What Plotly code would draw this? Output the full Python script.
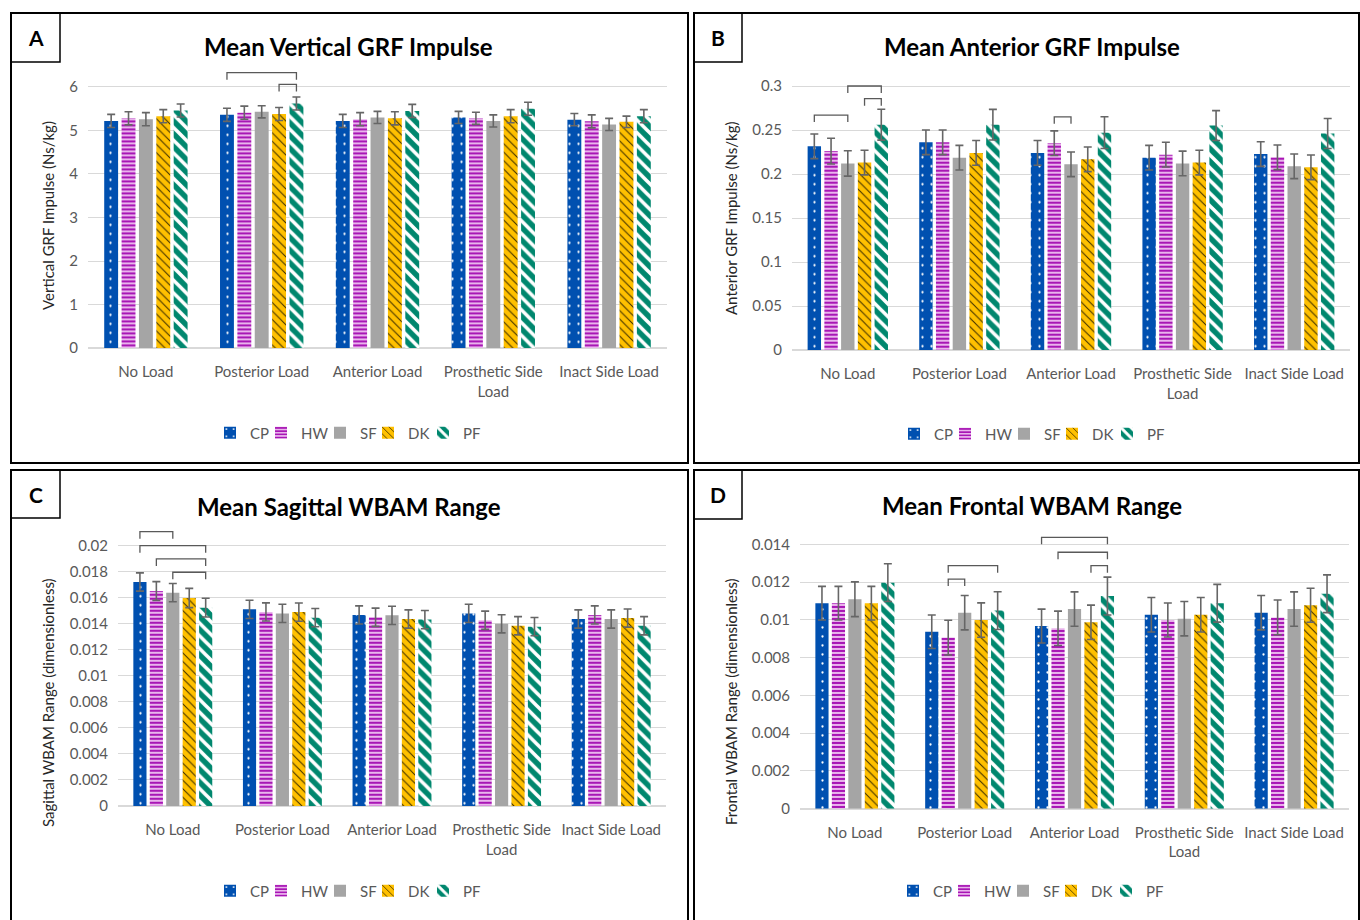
import plotly.graph_objects as go

# ---------------- data ----------------
categories = ["No Load", "Posterior Load", "Anterior Load", "Prosthetic Side<br>Load", "Inact Side Load"]
conditions = ["CP", "HW", "SF", "DK", "PF"]

# A: Mean Vertical GRF Impulse (Ns/kg)
vgrf_mean = {
    "CP": [5.22, 5.36, 5.22, 5.30, 5.25],
    "HW": [5.28, 5.41, 5.26, 5.28, 5.21],
    "SF": [5.26, 5.43, 5.30, 5.22, 5.14],
    "DK": [5.33, 5.38, 5.28, 5.33, 5.20],
    "PF": [5.46, 5.62, 5.45, 5.50, 5.33],
}
vgrf_err = {
    "CP": [0.15, 0.15, 0.15, 0.14, 0.14],
    "HW": [0.15, 0.15, 0.15, 0.14, 0.15],
    "SF": [0.15, 0.14, 0.14, 0.14, 0.14],
    "DK": [0.15, 0.15, 0.15, 0.15, 0.13],
    "PF": [0.15, 0.15, 0.15, 0.15, 0.15],
}
vgrf_sig = [("Posterior Load", "CP", "PF", 6.33), ("Posterior Load", "DK", "PF", 6.06)]
vgrf_ticks = [0, 1, 2, 3, 4, 5, 6]
vgrf_ticktext = ["0", "1", "2", "3", "4", "5", "6"]

# B: Mean Anterior GRF Impulse (Ns/kg)
agrf_mean = {
    "CP": [0.2315, 0.236, 0.224, 0.2185, 0.2227],
    "HW": [0.226, 0.236, 0.235, 0.222, 0.219],
    "SF": [0.212, 0.2185, 0.211, 0.212, 0.2087],
    "DK": [0.213, 0.224, 0.2167, 0.213, 0.2076],
    "PF": [0.256, 0.256, 0.247, 0.255, 0.246],
}
agrf_err = {
    "CP": [0.014, 0.014, 0.014, 0.014, 0.014],
    "HW": [0.0146, 0.014, 0.014, 0.014, 0.014],
    "SF": [0.0144, 0.014, 0.014, 0.014, 0.014],
    "DK": [0.014, 0.014, 0.014, 0.014, 0.014],
    "PF": [0.0175, 0.0174, 0.018, 0.017, 0.017],
}
agrf_sig = [("No Load", "CP", "SF", 0.267), ("No Load", "SF", "PF", 0.300),
            ("No Load", "DK", "PF", 0.2856), ("Anterior Load", "HW", "SF", 0.265)]
agrf_ticks = [0, 0.05, 0.1, 0.15, 0.2, 0.25, 0.3]
agrf_ticktext = ["0", "0.05", "0.1", "0.15", "0.2", "0.25", "0.3"]

# C: Mean Sagittal WBAM Range (dimensionless)
sag_mean = {
    "CP": [0.01721, 0.01511, 0.01468, 0.01480, 0.01437],
    "HW": [0.01652, 0.01491, 0.01450, 0.01427, 0.01468],
    "SF": [0.01639, 0.01480, 0.01465, 0.01400, 0.01437],
    "DK": [0.01598, 0.01490, 0.01437, 0.01385, 0.01444],
    "PF": [0.01524, 0.01447, 0.01432, 0.01378, 0.01385],
}
sag_err = {
    "CP": [0.0007, 0.0007, 0.0007, 0.0007, 0.0007],
    "HW": [0.00072, 0.0007, 0.0007, 0.0007, 0.0007],
    "SF": [0.0007, 0.0007, 0.0007, 0.0007, 0.0007],
    "DK": [0.00074, 0.0007, 0.0007, 0.0007, 0.0007],
    "PF": [0.00072, 0.0007, 0.0007, 0.0007, 0.0007],
}
sag_sig = [("No Load", "CP", "SF", 0.02108), ("No Load", "CP", "PF", 0.0200),
           ("No Load", "HW", "PF", 0.01898), ("No Load", "SF", "PF", 0.01796)]
sag_ticks = [0, 0.002, 0.004, 0.006, 0.008, 0.01, 0.012, 0.014, 0.016, 0.018, 0.02]
sag_ticktext = ["0", "0.002", "0.004", "0.006", "0.008", "0.01", "0.012", "0.014", "0.016", "0.018", "0.02"]

# D: Mean Frontal WBAM Range (dimensionless)
fro_mean = {
    "CP": [0.01088, 0.00937, 0.00967, 0.01027, 0.01038],
    "HW": [0.01088, 0.00906, 0.00955, 0.00999, 0.01013],
    "SF": [0.01109, 0.01038, 0.01057, 0.01006, 0.01057],
    "DK": [0.01088, 0.00999, 0.00987, 0.01027, 0.01077],
    "PF": [0.01197, 0.01049, 0.01126, 0.01088, 0.01138],
}
fro_err = {
    "CP": [0.00089, 0.00089, 0.0009, 0.00091, 0.00091],
    "HW": [0.00089, 0.00092, 0.00091, 0.0009, 0.00092],
    "SF": [0.00092, 0.00091, 0.00091, 0.00091, 0.00091],
    "DK": [0.00089, 0.00091, 0.00091, 0.00091, 0.0009],
    "PF": [0.0010, 0.0010, 0.0010, 0.0010, 0.0010],
}
fro_sig = [("Posterior Load", "HW", "SF", 0.01216), ("Posterior Load", "HW", "PF", 0.01287),
           ("Anterior Load", "CP", "PF", 0.01437), ("Anterior Load", "HW", "PF", 0.01358),
           ("Anterior Load", "DK", "PF", 0.01287)]
fro_ticks = [0, 0.002, 0.004, 0.006, 0.008, 0.01, 0.012, 0.014]
fro_ticktext = ["0", "0.002", "0.004", "0.006", "0.008", "0.01", "0.012", "0.014"]

# ---------------- style ----------------
W, H = 1360, 920
FONT = "Lato"
BARGAP, GROUPGAP = 0.25, 0.2

patterns = {
    "CP": dict(color="#0050B0", pattern=dict(shape=".", fgcolor="white", bgcolor="#0050B0",
                                             size=9, solidity=0.05, fgopacity=1)),
    "HW": dict(color="#A21CAF", pattern=dict(shape="-", fgcolor="#A816B5", bgcolor="#E9B4EC",
                                             size=4, solidity=0.5, fgopacity=1)),
    "SF": dict(color="#A5A5A5"),
    "DK": dict(color="#FFC000", pattern=dict(shape="\\", fgcolor="#3A2C00", bgcolor="#FFC000",
                                             size=6, solidity=0.17, fgopacity=1)),
    "PF": dict(color="#00876E", pattern=dict(shape="\\", fgcolor="white", bgcolor="#00876E",
                                             size=9, solidity=0.4, fgopacity=1)),
}
# legend label left edges relative to the first label (px)
legend_offsets = [0, 51, 110, 158, 213]

panels = [
    dict(letter="A", title="Mean Vertical GRF Impulse", ytitle="Vertical GRF Impulse (Ns/kg)",
         mean=vgrf_mean, err=vgrf_err, sig=vgrf_sig, ticks=vgrf_ticks, ticktext=vgrf_ticktext,
         x0=88, x1=667, ybot=348, ygrid=87, gval=6, rmax=6.45,
         frame=(11, 13, 688, 463), lbox=(11, 13, 60, 62), title_xy=(349, 47),
         ytitle_xy=(48, 216), legend_xy=(250, 433)),
    dict(letter="B", title="Mean Anterior GRF Impulse", ytitle="Anterior GRF Impulse (Ns/kg)",
         mean=agrf_mean, err=agrf_err, sig=agrf_sig, ticks=agrf_ticks, ticktext=agrf_ticktext,
         x0=792, x1=1350, ybot=350, ygrid=86, gval=0.3, rmax=0.306,
         frame=(694, 13, 1359, 463), lbox=(694, 13, 742, 62), title_xy=(1032, 47),
         ytitle_xy=(731, 219), legend_xy=(934, 434)),
    dict(letter="C", title="Mean Sagittal WBAM Range", ytitle="Sagittal WBAM Range (dimensionless)",
         mean=sag_mean, err=sag_err, sig=sag_sig, ticks=sag_ticks, ticktext=sag_ticktext,
         x0=118, x1=666, ybot=806, ygrid=545.7, gval=0.02, rmax=0.0213,
         frame=(11, 470, 688, 925), lbox=(11, 470, 60, 518), title_xy=(349, 506),
         ytitle_xy=(48, 703), legend_xy=(250, 891)),
    dict(letter="D", title="Mean Frontal WBAM Range", ytitle="Frontal WBAM Range (dimensionless)",
         mean=fro_mean, err=fro_err, sig=fro_sig, ticks=fro_ticks, ticktext=fro_ticktext,
         x0=800, x1=1349, ybot=808.7, ygrid=544.3, gval=0.014, rmax=0.0146,
         frame=(694, 470, 1359, 925), lbox=(694, 470, 742, 519), title_xy=(1032, 505),
         ytitle_xy=(731, 702), legend_xy=(933, 891)),
]


def fx(p):
    return p / W


def fy(p):
    return 1 - p / H


fig = go.Figure()
shapes = []
annotations = []
layout_axes = {}

for pi, P in enumerate(panels):
    n = "" if pi == 0 else str(pi + 1)
    xa, ya = "x" + n, "y" + n
    ytop = P["ybot"] - (P["ybot"] - P["ygrid"]) * P["rmax"] / P["gval"]
    for ci, c in enumerate(conditions):
        li = pi * len(conditions) + ci + 1
        leg = "legend" if li == 1 else "legend" + str(li)
        fig.add_trace(go.Bar(
            x=categories, y=P["mean"][c], name=c,
            error_y=dict(type="data", array=P["err"][c], color="#666666", thickness=1.6, width=4),
            marker=dict(line=dict(width=0), **patterns[c]),
            xaxis=xa, yaxis=ya, legend=leg, showlegend=True,
        ))
        layout_axes[leg] = dict(
            orientation="h", x=fx(P["legend_xy"][0] + legend_offsets[ci] - 40),
            y=fy(P["legend_xy"][1]), xanchor="left", yanchor="middle",
            bgcolor="rgba(0,0,0,0)", borderwidth=0,
            font=dict(family=FONT, size=15, color="#595959"), itemwidth=30,
        )
    layout_axes["xaxis" + n] = dict(
        domain=[fx(P["x0"]), fx(P["x1"])], anchor=ya, type="category", automargin=False,
        showgrid=False, showline=False, ticks="", ticklabelstandoff=13,
        tickfont=dict(family=FONT, size=15, color="#595959"),
    )
    layout_axes["yaxis" + n] = dict(
        domain=[fy(P["ybot"]), fy(ytop)], anchor=xa, range=[0, P["rmax"]], automargin=False,
        tickvals=P["ticks"], ticktext=P["ticktext"], showgrid=True, gridcolor="#D9D9D9",
        gridwidth=1.3, zeroline=True, zerolinecolor="#D9D9D9", zerolinewidth=1.5,
        showline=False, ticks="", ticklabelstandoff=9,
        tickfont=dict(family=FONT, size=15, color="#595959"),
    )
    # significance brackets
    slot = (1 - BARGAP) / len(conditions)
    ppu = (P["ybot"] - P["ygrid"]) / P["gval"]
    leg_len = 7 / ppu
    for cat, a, b, yv in P["sig"]:
        k = [cc.replace("<br>", " ") for cc in categories].index(cat)
        xa_ = k - (1 - BARGAP) / 2 + (conditions.index(a) + 0.5) * slot
        xb_ = k - (1 - BARGAP) / 2 + (conditions.index(b) + 0.5) * slot
        shapes.append(dict(
            type="path", xref=xa, yref=ya,
            path=f"M {xa_},{yv - leg_len} L {xa_},{yv} L {xb_},{yv} L {xb_},{yv - leg_len}",
            line=dict(color="#595959", width=1.3),
        ))
    # frame and letter box
    x0, y0, x1, y1 = P["frame"]
    shapes.append(dict(type="rect", xref="paper", yref="paper", x0=fx(x0), x1=fx(x1),
                       y0=fy(y1), y1=fy(y0), line=dict(color="black", width=2)))
    lx0, ly0, lx1, ly1 = P["lbox"]
    shapes.append(dict(type="rect", xref="paper", yref="paper", x0=fx(lx0), x1=fx(lx1),
                       y0=fy(ly1), y1=fy(ly0), line=dict(color="black", width=1.5)))
    annotations.append(dict(text="<b>" + P["letter"] + "</b>", xref="paper", yref="paper",
                            x=fx((lx0 + lx1) / 2), y=fy((ly0 + ly1) / 2), showarrow=False,
                            xanchor="center", yanchor="middle",
                            font=dict(family=FONT, size=21, color="black")))
    annotations.append(dict(text="<b>" + P["title"] + "</b>", xref="paper", yref="paper",
                            x=fx(P["title_xy"][0]), y=fy(P["title_xy"][1]), showarrow=False,
                            xanchor="center", yanchor="middle",
                            font=dict(family=FONT, size=24, color="black")))
    annotations.append(dict(text=P["ytitle"], xref="paper", yref="paper", textangle=-90,
                            x=fx(P["ytitle_xy"][0]), y=fy(P["ytitle_xy"][1]), showarrow=False,
                            xanchor="center", yanchor="middle",
                            font=dict(family=FONT, size=15, color="#262626")))

fig.update_layout(
    width=W, height=H, margin=dict(l=0, r=0, t=0, b=0, pad=0), autosize=False,
    paper_bgcolor="white", plot_bgcolor="white",
    barmode="group", bargap=BARGAP, bargroupgap=GROUPGAP,
    shapes=shapes, annotations=annotations, font=dict(family=FONT),
    **layout_axes,
)

fig.write_html("out.html", config={"displayModeBar": False},
               post_script="document.body.style.margin='0';document.body.style.overflow='hidden';")
